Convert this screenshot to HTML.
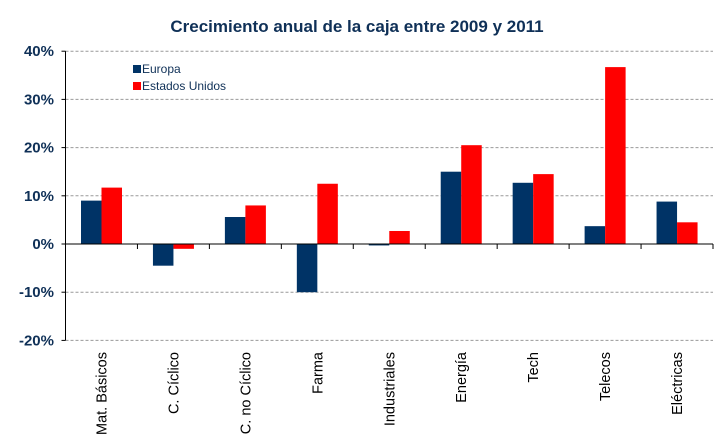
<!DOCTYPE html>
<html><head><meta charset="utf-8"><style>
body{margin:0;background:#fff;}
svg{display:block;font-family:"Liberation Sans","DejaVu Sans",sans-serif;}
</style></head><body>
<svg id="c" width="718" height="447">
<text x="357" y="32" text-anchor="middle" font-size="17" font-weight="bold" fill="#0f3057">Crecimiento anual de la caja entre 2009 y 2011</text>
<g>
<rect x="133" y="65" width="8" height="8" fill="#003366"/>
<text x="142" y="73" font-size="12" fill="#0f3057">Europa</text>
<rect x="133" y="82" width="8" height="8" fill="#ff0000"/>
<text x="142" y="90" font-size="12" fill="#0f3057">Estados Unidos</text>
</g>
</svg>
<script>
const categories=["Mat. Básicos","C. Cíclico","C. no Cíclico","Farma","Industriales","Energía","Tech","Telecos","Eléctricas"];
const europa=[9,-4.5,5.6,-10,-0.3,15,12.7,3.7,8.8];
const usa=[11.7,-1,8,12.5,2.7,20.5,14.5,36.7,4.5];
const ticks=[40,30,20,10,0,-10,-20];
const tickLabels=["40%","30%","20%","10%","0%","-10%","-20%"];
const svg=document.getElementById('c');
const NS='http://www.w3.org/2000/svg';
const x0=65.5,x1=713,cw=(x1-x0)/categories.length;
const y=v=>244-v*4.82;
function mk(t,a){const e=document.createElementNS(NS,t);for(const k in a)e.setAttribute(k,a[k]);svg.appendChild(e);return e;}
ticks.forEach((t,i)=>{
 if(t!==0){const g=mk('line',{x1:x0,x2:x1,y1:y(t),y2:y(t),stroke:'#999','stroke-dasharray':'3,2'});
 
 }
 const l=mk('line',{x1:x0-4,x2:x0,y1:y(t),y2:y(t),stroke:'#000'});
 
 
 const tx=mk('text',{x:54,y:y(t)+5,'text-anchor':'end','font-size':'15','font-weight':'bold',fill:'#0f3057'});
 tx.textContent=tickLabels[i];
 
 
});
categories.forEach((c,i)=>{
 const cx=x0+cw*i;
 const b1=mk('rect',{x:cx+15.5,y:Math.min(y(europa[i]),y(0)),width:20.5,height:Math.abs(y(europa[i])-y(0)),fill:'#003366'});
 
 
 const b2=mk('rect',{x:cx+36,y:Math.min(y(usa[i]),y(0)),width:20.5,height:Math.abs(y(usa[i])-y(0)),fill:'#ff0000'});
 
 
 const tk=mk('line',{x1:cx+cw,x2:cx+cw,y1:y(0),y2:y(0)+5,stroke:'#000'});
 
 
 const tx=mk('text',{transform:`translate(${cx+cw/2+5},352) rotate(-90)`,'text-anchor':'end','font-size':'14.5',fill:'#000'});
 tx.textContent=c;
 
 
});
const ax=mk('line',{x1:x0,x2:x0,y1:y(40),y2:y(-20),stroke:'#000'});


const zx=mk('line',{x1:x0,x2:x1,y1:y(0),y2:y(0),stroke:'#000'});


</script>
</body></html>
